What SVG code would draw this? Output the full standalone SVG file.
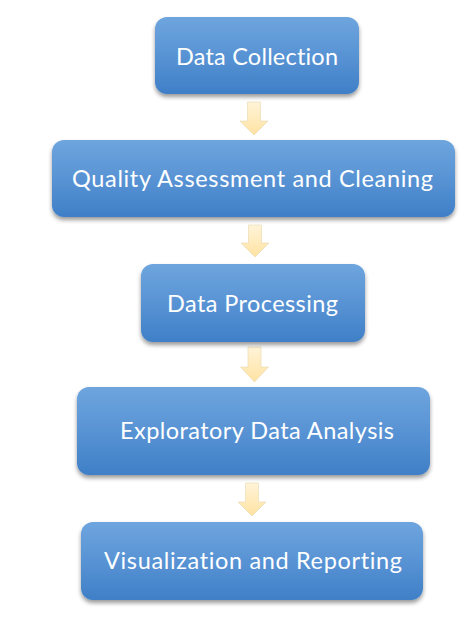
<svg xmlns="http://www.w3.org/2000/svg" width="476" height="617" viewBox="0 0 476 617">
<defs>
<linearGradient id="boxg" x1="0" y1="0" x2="0" y2="1">
<stop offset="0" stop-color="#6ea5de"/>
<stop offset="0.5" stop-color="#5893d4"/>
<stop offset="1" stop-color="#3f7fc7"/>
</linearGradient>
<linearGradient id="arrg" x1="0" y1="0" x2="0" y2="1">
<stop offset="0" stop-color="#fff4d8"/>
<stop offset="1" stop-color="#ffe2a2"/>
</linearGradient>
<filter id="sh" x="-10%" y="-20%" width="120%" height="150%">
<feDropShadow dx="0" dy="3" stdDeviation="2.2" flood-color="#000" flood-opacity="0.4"/>
</filter>
</defs>
<style>
.box{fill:url(#boxg);filter:url(#sh);}
.lbl{font-family:Lato,"Open Sans","Liberation Sans",sans-serif;font-size:23.5px;fill:#ffffff;font-variant-ligatures:none;font-feature-settings:"liga" 0,"dlig" 0;}
.arr{fill:url(#arrg);stroke:#e6d6ad;stroke-width:0.6;}
</style>
<rect width="476" height="617" fill="#ffffff"/>
<g id="connectors">
<path class="arr" d="M247.5,102 H260.5 V121 H268 L254,135 L240,121 H247.5 Z"/>
<path class="arr" d="M248.5,225 H261.5 V243 H269 L255,257 L241,243 H248.5 Z"/>
<path class="arr" d="M248,347 H261 V367 H268.5 L254.5,382 L240.5,367 H248 Z"/>
<path class="arr" d="M245.5,483 H258.5 V502 H266 L252,516 L238,502 H245.5 Z"/>
</g>
<g id="node-data-collection">
<rect class="box" x="155" y="17" width="204" height="77" rx="12"/>
<text class="lbl" x="176" y="64.5" textLength="162">Data Collection</text>
</g>
<g id="node-quality">
<rect class="box" x="52" y="140" width="403" height="77" rx="12"/>
<text class="lbl" x="72" y="187" textLength="361">Quality Assessment and Cleaning</text>
</g>
<g id="node-processing">
<rect class="box" x="141" y="264" width="224" height="78" rx="12"/>
<text class="lbl" x="167" y="312" textLength="171">Data Processing</text>
</g>
<g id="node-eda">
<rect class="box" x="77" y="387" width="353" height="88" rx="12"/>
<text class="lbl" x="120" y="439" textLength="274">Exploratory Data Analysis</text>
</g>
<g id="node-visualization">
<rect class="box" x="81" y="522" width="342" height="78" rx="12"/>
<text class="lbl" x="104" y="569" textLength="298">Visualization and Reporting</text>
</g>
</svg>
